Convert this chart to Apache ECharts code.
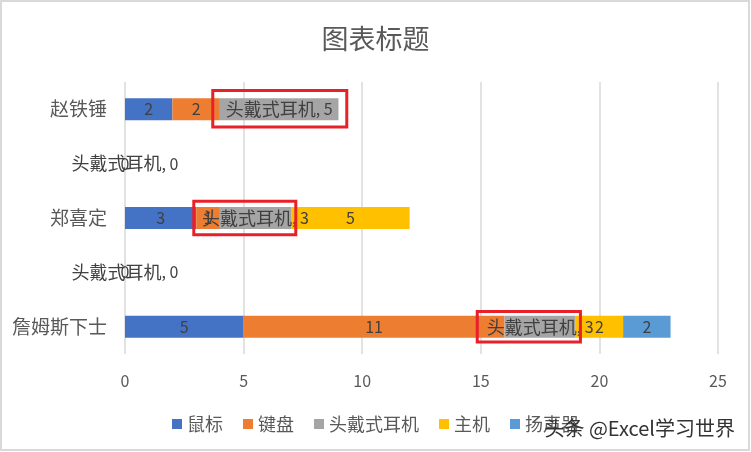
<!DOCTYPE html>
<html>
<head>
<meta charset="utf-8">
<title>图表标题</title>
<script src="https://cdn.jsdelivr.net/npm/echarts@6/dist/echarts.min.js"></script>
<style>
  html, body { margin: 0; padding: 0; background: #fff; }
  #main { width: 751px; height: 452px; }
</style>
</head>
<body>
<div id="main"></div>
<script>
// 类目（自下而上），空行用不同数量的空格区分
const categories = ['詹姆斯下士', ' ', '郑喜定', '  ', '赵铁锤'];
const seriesNames = ['鼠标', '键盘', '头戴式耳机', '主机', '扬声器'];
const mouse = [5, 0, 3, 0, 2];
const keyboard = [11, null, 1, null, 2];
const headset = [3, 0, 3, 0, 5];
const host = [2, null, 5, null, null];
const speaker = [2, null, null, null, null];
const xTicks = [0, 5, 10, 15, 20, 25];

// 红框标注（数据坐标）
const highlightBoxes = [
  { cat: 4, x1: 3.7, x2: 9.35, h: 0.67, dy: 0.01 },
  { cat: 2, x1: 2.9, x2: 7.2, h: 0.62, dy: 0 },
  { cat: 0, x1: 14.85, x2: 19.2, h: 0.56, dy: 0 }
];

const colors = ['#4472C4', '#ED7D31', '#A5A5A5', '#FFC000', '#5B9BD5'];
const FONT = '"Noto Sans CJK SC", "Noto Sans", sans-serif';

const chart = echarts.init(document.getElementById('main'));

function valueLabel() {
  return {
    show: true,
    position: 'inside',
    color: '#404040',
    fontSize: 16,
    fontFamily: FONT,
    formatter: '{c}'
  };
}

function makeSeries(name, data, label) {
  return {
    name: name,
    type: 'bar',
    stack: 'total',
    barWidth: 22,
    data: data,
    label: label || valueLabel()
  };
}

const option = {
  animation: false,
  color: colors,
  textStyle: { fontFamily: FONT },
  title: {
    text: '图表标题',
    left: 'center',
    top: 20,
    textStyle: {
      fontSize: 27,
      fontWeight: 'normal',
      color: '#595959',
      fontFamily: FONT
    }
  },
  legend: {
    data: seriesNames,
    left: 'center',
    top: 410,
    icon: 'rect',
    itemWidth: 10,
    itemHeight: 10,
    itemGap: 20,
    textStyle: {
      fontSize: 18,
      color: '#595959',
      fontFamily: FONT
    }
  },
  grid: {
    left: 125,
    right: 33,
    top: 82,
    bottom: 98,
    containLabel: false
  },
  xAxis: {
    type: 'value',
    min: xTicks[0],
    max: xTicks[xTicks.length - 1],
    interval: xTicks[1] - xTicks[0],
    axisLine: { show: false },
    axisTick: { show: false },
    splitLine: { show: true, lineStyle: { color: '#d9d9d9', width: 1.5 } },
    axisLabel: {
      color: '#595959',
      fontSize: 16,
      margin: 19,
      fontFamily: FONT
    }
  },
  yAxis: {
    type: 'category',
    data: categories,
    axisLine: { show: false },
    axisTick: { show: false },
    splitLine: { show: false },
    axisLabel: {
      color: '#595959',
      fontSize: 19,
      margin: 18,
      fontFamily: FONT
    }
  },
  series: [
    makeSeries(seriesNames[0], mouse),
    makeSeries(seriesNames[1], keyboard),
    makeSeries(seriesNames[2], headset, {
      show: true,
      position: 'inside',
      color: '#404040',
      fontFamily: FONT,
      formatter: function (p) {
        return '{n|' + p.seriesName + '}{v|, ' + p.value + '}';
      },
      rich: {
        n: { fontSize: 18, color: '#404040', fontFamily: FONT },
        v: { fontSize: 16, color: '#404040', fontFamily: FONT }
      }
    }),
    makeSeries(seriesNames[3], host),
    makeSeries(seriesNames[4], speaker)
  ]
};

chart.setOption(option);

// 红框与外框、水印
function boxGraphic(b) {
  const p1 = chart.convertToPixel({ gridIndex: 0 }, [b.x1, b.cat]);
  const p2 = chart.convertToPixel({ gridIndex: 0 }, [b.x2, b.cat]);
  const c0 = chart.convertToPixel({ gridIndex: 0 }, [0, 0]);
  const c1 = chart.convertToPixel({ gridIndex: 0 }, [0, 1]);
  const band = Math.abs(c1[1] - c0[1]);
  const h = band * b.h;
  const cy = p1[1] - band * b.dy;
  return {
    type: 'rect',
    z: 100,
    shape: { x: p1[0], y: cy - h / 2, width: p2[0] - p1[0], height: h },
    style: { fill: 'none', stroke: '#E8202A', lineWidth: 3 }
  };
}

const graphics = highlightBoxes.map(boxGraphic);
graphics.push({
  type: 'rect',
  z: 100,
  shape: { x: 1, y: 1, width: 748, height: 449 },
  style: { fill: 'none', stroke: '#d9d9d9', lineWidth: 2 }
});
graphics.push({
  type: 'text',
  z: 110,
  right: 16,
  top: 418,
  style: {
    text: '头条 @Excel学习世界',
    fill: '#333333',
    font: '20px ' + FONT,
    shadowColor: 'rgba(255,255,255,0.9)',
    shadowBlur: 2
  }
});

chart.setOption({ graphic: graphics });
</script>
</body>
</html>
